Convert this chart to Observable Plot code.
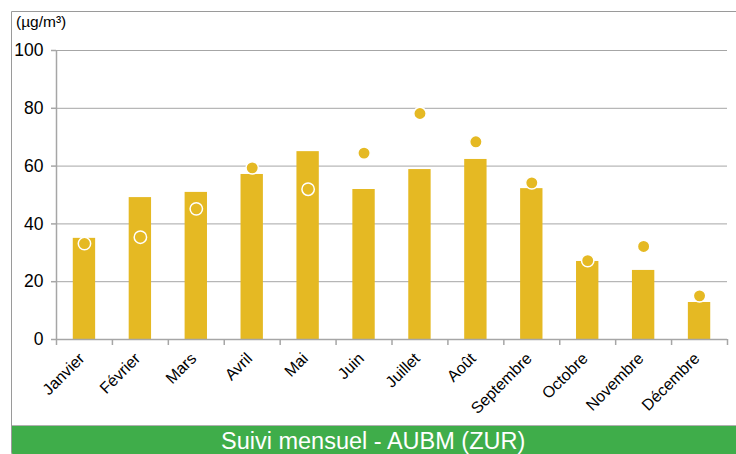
<!DOCTYPE html>
<html><head><meta charset="utf-8">
<script src="https://cdn.jsdelivr.net/npm/d3@7"></script>
<script src="https://cdn.jsdelivr.net/npm/@observablehq/plot@0.6"></script>
<style>
html,body{margin:0;padding:0;background:#fff;overflow:hidden;}
#wrap{position:relative;width:736px;height:454px;font-family:"Liberation Sans",Arial,sans-serif;}
#frame{position:absolute;left:11px;top:11px;width:740px;height:450px;border:1px solid #9a9a9a;border-radius:0 0 0 9px;box-sizing:border-box;overflow:hidden;}
#foot{position:absolute;left:0;right:0;top:413px;height:40px;background:#3fad4a;border-top:1px solid #b0b0b0;color:#fff;font-size:23.5px;line-height:30px;}
#foot span{position:absolute;left:209px;top:0px;}
#unit{position:absolute;left:16px;top:13px;font-size:15.5px;color:#000;}
#chart{position:absolute;left:0;top:0;width:736px;}
</style></head>
<body><div id="wrap"><div id="frame"><div id="foot"><span>Suivi mensuel - AUBM (ZUR)</span></div></div><div id="unit">(µg/m³)</div><div id="chart"></div></div>
<script>
const months = ["Janvier","Février","Mars","Avril","Mai","Juin","Juillet","Août","Septembre","Octobre","Novembre","Décembre"];
const barValues = [35, 49.1, 50.9, 57.1, 65, 51.9, 58.8, 62.3, 52.2, 27, 23.9, 12.8];
const dotValues = [33.2, 35.4, 45.2, 59.4, 52, 64.5, 78.2, 68.4, 54.2, 27.3, 32.2, 15.1];
const yTicks = [0, 20, 40, 60, 80, 100];

const data = months.map((m, i) => ({month: m, bar: barValues[i], dot: dotValues[i]}));
const yellow = "#e5b923";
const grey = "#a6a6a6";
const W = 736, H = 425, ML = 56, MR = 9;
const step = (W - ML - MR) / months.length;

const plot = Plot.plot({
  width: W, height: H,
  marginLeft: ML, marginRight: MR, marginTop: 50, marginBottom: 86,
  style: {fontFamily: "'Liberation Sans', Arial, sans-serif", background: "transparent", overflow: "visible", maxWidth: "none"},
  x: {domain: months, paddingInner: 0.6, paddingOuter: 0.3, round: false, label: null, axis: null},
  y: {domain: [0, 100], ticks: yTicks, label: null},
  marks: [
    Plot.gridY(yTicks.filter(d => d > 0), {stroke: grey, strokeOpacity: 1, strokeWidth: 1}),
    Plot.barY(data, {x: "month", y: "bar", fill: yellow}),
    Plot.dot(data, {x: "month", y: "dot", r: 6.2, fill: yellow, stroke: "#fff", strokeWidth: 1.5}),
    Plot.ruleY([0], {stroke: grey, strokeWidth: 1.5}),
    Plot.ruleX([months[0]], {y1: 0, y2: 100, dx: -step / 2, stroke: grey, strokeWidth: 1.5}),
    Plot.ruleX(months, {y1: 0, y2: 0, insetBottom: -6, dx: -step / 2, stroke: grey, strokeWidth: 1.5}),
    Plot.ruleX([months[months.length - 1]], {y1: 0, y2: 0, insetBottom: -6, dx: step / 2, stroke: grey, strokeWidth: 1.5}),
    Plot.axisY(yTicks, {tickSize: 5, tickPadding: 8, fontSize: 17.5, stroke: grey, strokeWidth: 1.5}),
    Plot.text(months, {x: d => d, y: () => 0, text: d => d, rotate: -45, textAnchor: "end", lineAnchor: "bottom", dx: 1, dy: 20, fontSize: 16, fill: "#000"})
  ]
});
plot.querySelectorAll("text").forEach(t => t.setAttribute("fill", "#000"));
document.getElementById("chart").appendChild(plot);
</script>
</body></html>
